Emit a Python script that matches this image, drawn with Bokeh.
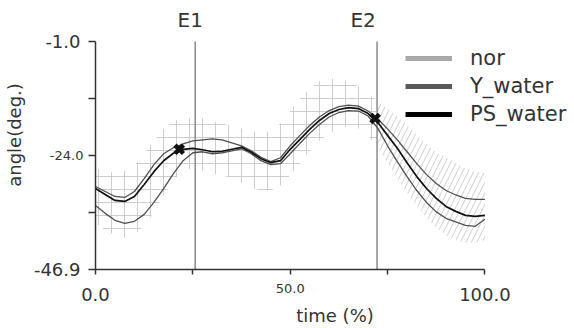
from bokeh.plotting import figure
from bokeh.models import Range1d, FixedTicker, Legend, LegendItem, Label, LinearAxis
from bokeh.embed import file_html
from bokeh.resources import INLINE

# ---------------- data ----------------
t_pct = [0, 2.5, 5, 7.5, 10, 12.5, 15, 17.5, 20, 22.5, 25, 27.5, 30, 32.5, 35, 37.5,
         40, 42.5, 45, 47.5, 50, 52.5, 55, 57.5, 60, 62.5, 65, 67.5, 70, 72.5, 75,
         77.5, 80, 82.5, 85, 87.5, 90, 92.5, 95, 97.5, 100]

ps_water = [-30.6, -31.8, -33.0, -33.2, -32.2, -29.8, -27.2, -25.0, -23.5, -22.7, -22.5,
            -22.8, -23.2, -23.1, -22.7, -22.3, -23.3, -24.6, -25.4, -25.0, -22.7, -20.7,
            -18.7, -16.9, -15.5, -14.7, -14.3, -14.5, -15.5, -17.3, -19.9, -22.5, -25.4,
            -28.2, -30.6, -32.6, -34.2, -35.2, -36.0, -36.2, -36.0]

y_water_hi = [-30.2, -31.2, -32.2, -32.4, -31.2, -28.6, -25.8, -23.6, -22.4, -21.6, -21.0,
              -20.8, -20.6, -20.8, -21.4, -22.0, -23.0, -24.3, -25.2, -24.4, -22.0, -19.9,
              -17.9, -16.2, -14.9, -14.1, -13.8, -14.0, -15.0, -16.6, -18.6, -20.8, -23.2,
              -25.6, -27.8, -29.6, -31.0, -31.9, -32.6, -32.8, -32.8]

y_water_lo = [-34.0, -35.6, -37.0, -37.6, -37.2, -35.8, -33.4, -30.6, -27.6, -25.0, -23.4,
              -23.2, -23.6, -23.4, -23.0, -22.6, -23.6, -25.0, -25.8, -25.6, -23.6, -21.5,
              -19.5, -17.7, -16.2, -15.3, -14.9, -15.0, -16.0, -18.5, -22.0, -25.2, -28.2,
              -31.0, -33.4, -35.3, -36.6, -37.3, -38.0, -38.2, -36.8]

nor_hi = [-26.5, -27.0, -27.5, -27.0, -26.0, -23.5, -21.0, -18.5, -17.0, -16.5, -16.5,
          -16.5, -17.0, -17.5, -18.0, -18.5, -19.0, -19.5, -19.0, -17.5, -15.0, -12.5,
          -10.5, -9.0, -8.5, -8.5, -9.0, -10.0, -11.5, -13.0, -14.5, -16.0, -17.8,
          -19.8, -21.8, -23.3, -24.3, -25.5, -26.5, -27.2, -27.5]

nor_lo = [-37.5, -39.0, -40.0, -40.5, -40.0, -38.0, -35.5, -32.0, -29.0, -27.0, -26.5,
          -27.0, -27.5, -28.0, -28.5, -29.5, -30.5, -31.0, -31.0, -30.0, -28.0, -25.5,
          -23.0, -21.0, -19.5, -18.5, -18.0, -18.5, -20.0, -22.5, -25.5, -28.5, -31.5,
          -34.0, -36.5, -38.5, -40.0, -41.0, -41.5, -41.5, -41.0]

event_names = ["E1", "E2"]
event_t = [25.6, 72.3]
mark_t = [21.5, 71.8]
mark_v = [-22.7, -16.5]

x_ticks = [0, 25, 50, 75, 100]
x_big_labels = {0: "0.0", 25: "", 50: "", 75: "", 100: "100.0"}
x_small_labels = {0: "", 25: "", 50: "50.0", 75: "", 100: ""}

y_ticks = [-46.9, -35.45, -24.0, -12.5, -1.0]
y_big_labels = {-46.9: "-46.9", -35.45: "", -24.0: "", -12.5: "", -1.0: "-1.0"}
y_small_labels = {-46.9: "", -35.45: "", -24.0: "-24.0", -12.5: "", -1.0: ""}

x_lo, x_hi = 0, 100
y_lo, y_hi = -46.9, -1.0

legend_names = ["nor", "Y_water", "PS_water"]

# ---------------- figure ----------------
FONT = "DejaVu Sans"
TXT = "#333333"
AX = "#333333"

p = figure(width=574, height=328, output_backend="svg", toolbar_location=None,
           x_range=Range1d(0, 123.0), y_range=Range1d(-46.9, 7.25),
           min_border_left=93, min_border_right=0, min_border_top=0, min_border_bottom=59)
p.outline_line_color = None
p.grid.visible = False
p.background_fill_color = "white"
p.border_fill_color = "white"
p.extra_y_ranges = {"legend_only": Range1d(1000, 1001)}

# normal band (hatched)
split = t_pct.index(72.5)
p.varea(x=t_pct[:split + 1], y1=nor_lo[:split + 1], y2=nor_hi[:split + 1],
        fill_alpha=0, hatch_pattern="+", hatch_color="#c8c8c8", hatch_alpha=0.9,
        hatch_scale=13, hatch_weight=1)
p.varea(x=t_pct[split:], y1=nor_lo[split:], y2=nor_hi[split:],
        fill_alpha=0, hatch_pattern="/", hatch_color="#c8c8c8", hatch_alpha=0.9,
        hatch_scale=11, hatch_weight=1)

# event lines
p.segment(x0=event_t, y0=[y_lo] * len(event_t), x1=event_t, y1=[y_hi] * len(event_t),
          line_color="#8a8a8a", line_width=1.5)

# curves
p.line(t_pct, y_water_hi, line_color="#505050", line_width=1.3)
p.line(t_pct, y_water_lo, line_color="#505050", line_width=1.3)
p.line(t_pct, ps_water, line_color="#111111", line_width=1.7)

# event markers
p.scatter(mark_t, mark_v, marker="x", size=12, line_width=4.5, line_color="#111111")

# ---------------- axes ----------------
def style(ax, size):
    ax.minor_tick_line_color = None
    ax.major_tick_in = 0
    ax.major_label_text_font = FONT
    ax.major_label_text_font_size = size
    ax.major_label_text_color = TXT
    ax.axis_label_text_font = FONT
    ax.axis_label_text_font_style = "normal"
    ax.axis_label_text_font_size = "18px"
    ax.axis_label_text_color = TXT

# inner x axis: line, ticks, small middle label
xa = p.xaxis[0]
style(xa, "13px")
xa.ticker = FixedTicker(ticks=x_ticks)
xa.bounds = (x_lo, x_hi)
xa.major_label_overrides = x_small_labels
xa.axis_line_color = AX
xa.axis_line_width = 1.5
xa.major_tick_line_color = AX
xa.major_tick_line_width = 1.5
xa.major_tick_out = 5
xa.major_label_standoff = 9

# outer x axis: big end labels + title
xb = LinearAxis(ticker=FixedTicker(ticks=x_ticks), bounds=(x_lo, x_hi),
                major_label_overrides=x_big_labels, axis_line_color=None,
                major_tick_line_color=None, major_tick_out=0, major_label_standoff=-8,
                axis_label="time (%)", axis_label_standoff=1)
style(xb, "18px")
p.add_layout(xb, "below")

# inner y axis: line, ticks, small middle label
ya = p.yaxis[0]
style(ya, "13px")
ya.ticker = FixedTicker(ticks=y_ticks)
ya.bounds = (y_lo, y_hi)
ya.major_label_overrides = y_small_labels
ya.axis_line_color = AX
ya.axis_line_width = 1.5
ya.major_tick_line_color = AX
ya.major_tick_line_width = 1.5
ya.major_tick_out = 7
ya.major_label_standoff = 5

# outer y axis: big end labels + title
yb = LinearAxis(ticker=FixedTicker(ticks=y_ticks), bounds=(y_lo, y_hi),
                major_label_overrides=y_big_labels, axis_line_color=None,
                major_tick_line_color=None, major_tick_out=0, major_label_standoff=-34,
                axis_label="angle(deg.)", axis_label_standoff=6)
style(yb, "18px")
p.add_layout(yb, "left")

# event names
for name, et, dx in zip(event_names, event_t, [-5, -14]):
    p.add_layout(Label(x=et, y=y_hi, text=name, x_offset=dx, y_offset=21,
                       text_align="center", text_baseline="middle", text_font=FONT,
                       text_font_size="20px", text_color=TXT))

# legend (renderers drawn outside the view, used only for legend swatches)
r_nor = p.line(t_pct, nor_hi, y_range_name="legend_only", line_color="#a8a8a8", line_width=5)
r_y = p.line(t_pct, y_water_hi, y_range_name="legend_only", line_color="#595959", line_width=5)
r_ps = p.line(t_pct, ps_water, y_range_name="legend_only", line_color="#000000", line_width=5)
legend = Legend(items=[LegendItem(label=legend_names[0], renderers=[r_nor]),
                       LegendItem(label=legend_names[1], renderers=[r_y]),
                       LegendItem(label=legend_names[2], renderers=[r_ps])],
                location=(310, 143), glyph_width=47, glyph_height=20, label_height=20,
                spacing=4, padding=0, margin=0, label_standoff=18,
                label_text_font=FONT, label_text_font_size="21px", label_text_color=TXT,
                border_line_color=None, background_fill_alpha=0)
p.add_layout(legend)

open("out.html", "w").write(file_html(p, INLINE))
